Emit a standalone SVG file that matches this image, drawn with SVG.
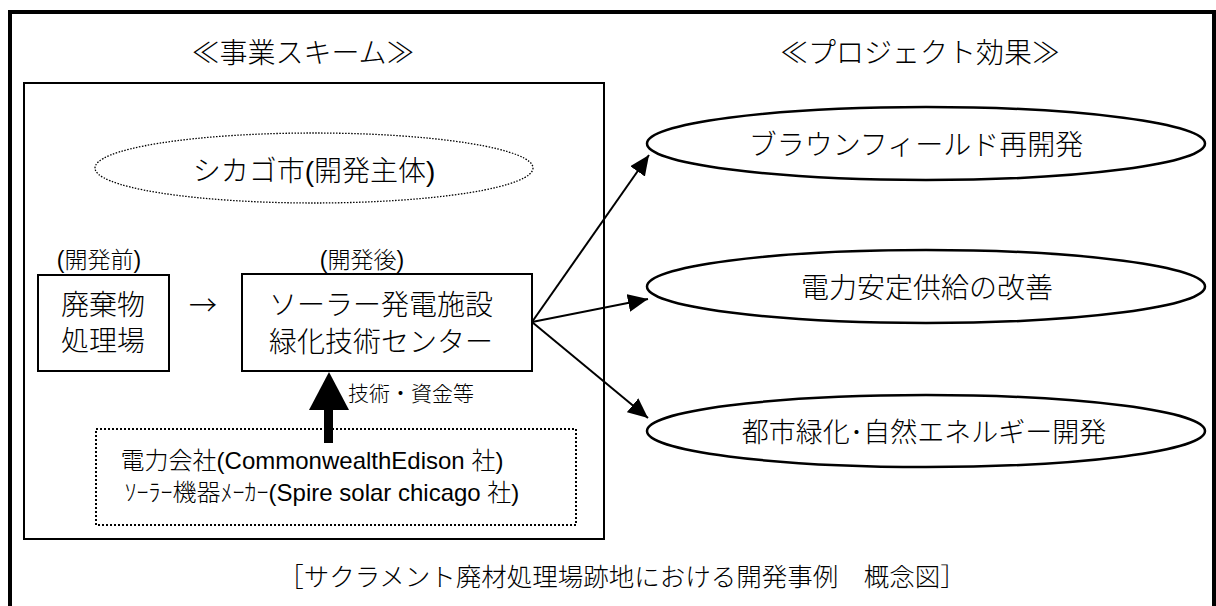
<svg xmlns="http://www.w3.org/2000/svg" width="1216" height="606" viewBox="0 0 1216 606">
<style>
.t{font-family:"Liberation Sans","Noto Sans CJK JP",sans-serif;font-weight:300;fill:#000;text-anchor:middle}
.j{font-family:"Noto Sans CJK JP",sans-serif}
.box{fill:#fff;stroke:#000;stroke-width:2}
.eff{fill:#fff;stroke:#000;stroke-width:2.5}
.dot{fill:none;stroke:#000;stroke-width:2;stroke-dasharray:2 2}
.conn{stroke:#000;stroke-width:2;fill:none}
</style>
<defs>
<marker id="ah" viewBox="0 0 20 18" refX="20" refY="9" markerWidth="20" markerHeight="18" markerUnits="userSpaceOnUse" orient="auto">
<path d="M0,0 L20,9 L0,18 z" fill="#000"/>
</marker>
</defs>
<rect x="0" y="0" width="1216" height="606" fill="#fff"/>
<rect id="frame" x="10" y="12" width="1204" height="620" fill="none" stroke="#000" stroke-width="4"/>
<text class="t" x="303" y="63" font-size="28">≪事業スキーム≫</text>
<text class="t" x="920" y="63" font-size="28">≪プロジェクト効果≫</text>
<g id="scheme">
<rect x="24" y="83" width="580" height="456" fill="none" stroke="#000" stroke-width="2"/>
</g>
<g id="chicago">
<ellipse cx="314" cy="168" rx="219" ry="35" fill="none" stroke="#000" stroke-width="1.3" stroke-dasharray="1.5 1.5"/>
<text class="t" x="314" y="181" font-size="28">シカゴ市(開発主体)</text>
</g>
<text class="t" x="99" y="268" font-size="23">(開発前)</text>
<text class="t" x="362" y="268" font-size="23">(開発後)</text>
<g id="before">
<rect class="box" x="38" y="275" width="131" height="96"/>
<text class="t" x="103" y="315" font-size="28">廃棄物</text>
<text class="t" x="103" y="351" font-size="28">処理場</text>
</g>
<text class="t j" x="203" y="316" font-size="28">→</text>
<g id="after">
<rect class="box" x="242" y="274" width="290" height="97"/>
<text class="t" x="381" y="315" font-size="28">ソーラー発電施設</text>
<text class="t" x="381" y="352" font-size="28">緑化技術センター</text>
</g>
<g id="companies">
<rect class="dot" x="96" y="429" width="480" height="96"/>
<text class="t" x="312" y="469" font-size="24">電力会社(CommonwealthEdison 社)</text>
<text class="t" x="322" y="501" font-size="24">ｿｰﾗｰ機器ﾒｰｶｰ(Spire solar chicago 社)</text>
</g>
<g id="effect1">
<ellipse class="eff" cx="926" cy="143.5" rx="279" ry="36.5"/>
<text class="t" x="916" y="155" font-size="28">ブラウンフィールド再開発</text>
</g>
<g id="effect2">
<ellipse class="eff" cx="926" cy="286.5" rx="279" ry="36.5"/>
<text class="t" x="927" y="298" font-size="28">電力安定供給の改善</text>
</g>
<g id="effect3">
<ellipse class="eff" cx="926" cy="431" rx="279" ry="36"/>
<text class="t" x="924" y="442" font-size="27">都市緑化･自然エネルギー開発</text>
</g>
<g id="connectors">
<line class="conn" x1="532" y1="322" x2="649" y2="155" marker-end="url(#ah)"/>
<line class="conn" x1="532" y1="322" x2="648" y2="299" marker-end="url(#ah)"/>
<line class="conn" x1="532" y1="322" x2="648" y2="418" marker-end="url(#ah)"/>
<rect x="324" y="408" width="9" height="35" fill="#000"/>
<polygon points="329,372 309,410 349,410" fill="#000"/>
<text class="t" x="411" y="401" font-size="21">技術・資金等</text>
</g>
<text class="t" x="622" y="586" font-size="25.5">［サクラメント廃材処理場跡地における開発事例　概念図］</text>
</svg>
